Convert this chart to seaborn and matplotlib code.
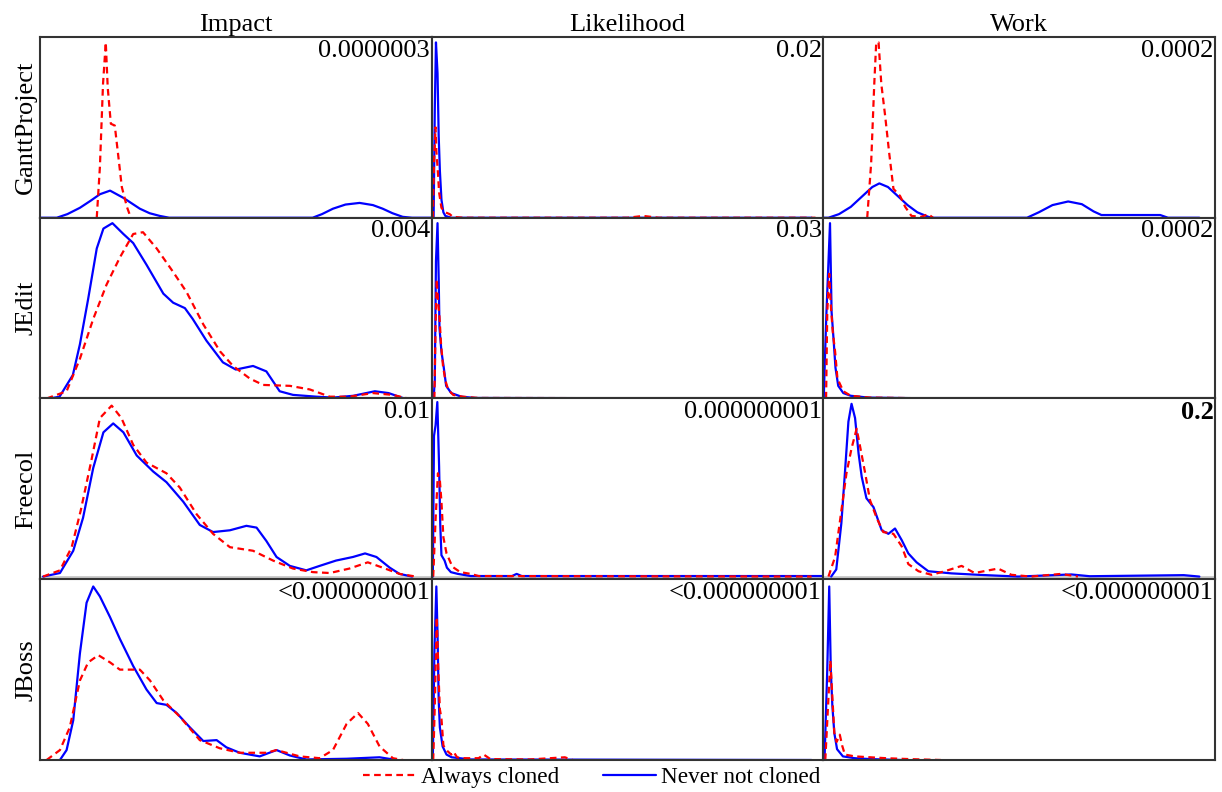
import matplotlib
matplotlib.use("Agg")
import matplotlib.pyplot as plt
from matplotlib.lines import Line2D
import seaborn as sns

# x: position across each panel (0-100), y: density scaled to panel height (0-100)
gp_imp_always_x = [14.5, 15.3, 16.1, 16.8, 17.3, 18.1, 19.1, 19.9, 20.9, 22.2, 23.2]
gp_imp_always_y = [0, 28, 74, 97, 72, 52, 51, 36, 17, 6, 0]
gp_imp_never_x = [0, 4.3, 7, 10.2, 13, 15.3, 17.9, 21.3, 25.5, 28, 30.6, 33,
                  69.6, 72, 74.8, 78, 81.6, 85, 87.5, 90, 92.6, 95, 100]
gp_imp_never_y = [0, 0, 2, 5.5, 9.5, 13, 15, 11, 5, 2.5, 1, 0,
                  0, 2, 5, 7.3, 8.2, 7, 5, 2.5, 0.5, 0, 0]

gp_lik_always_x = [0.3, 0.6, 1.0, 1.2, 1.6, 1.9, 2.5, 3.5, 4.6, 5.4, 8, 50, 54, 58, 98]
gp_lik_always_y = [0, 30, 50, 37, 25, 14, 5.5, 3, 2, 0.5, 0, 0, 1, 0, 0]
gp_lik_never_x = [0.5, 0.8, 1.1, 1.5, 1.8, 2.1, 2.5, 3.0, 3.5, 5, 97]
gp_lik_never_y = [0, 60, 97, 80, 45, 26, 10, 3, 1, 0, 0]

gp_work_always_x = [11.2, 12.2, 13.0, 13.5, 14.1, 14.8, 15.8, 16.8, 17.9, 19.6, 20.9, 22.5, 25, 26.8, 28]
gp_work_always_y = [0, 30, 74, 97, 97, 74, 56, 36, 16, 12, 6, 1, 0.5, 2, 0]
gp_work_never_x = [0, 1.3, 4, 7, 10, 12.5, 14.3, 16.5, 19, 21.5, 24, 26.8, 28,
                   52, 55, 58.5, 62.5, 66, 69, 71, 75, 86, 88, 96]
gp_work_never_y = [0, 0, 2, 6, 12, 17, 19, 17, 12, 7, 3, 0.5, 0,
                   0, 3, 7, 9, 7.5, 3.5, 1.5, 1.5, 1.5, 0, 0]

je_imp_always_x = [1.7, 6.8, 10.2, 13.6, 17, 20.4, 23.8, 26.3, 29.8, 34, 37.4, 41.7, 46,
                   49.3, 53.6, 57, 63.8, 68.9, 74, 79, 85, 90, 94]
je_imp_always_y = [0, 4, 22, 44, 63, 78, 91, 92, 83, 70, 59, 41, 26,
                   18, 11, 7.5, 7, 5, 1, 1, 3, 2, 0]
je_imp_never_x = [2.5, 5, 8.4, 10.2, 12.3, 14.5, 16.2, 18.5, 21.3, 23.8, 27.2, 31.5, 34, 37,
                  39, 42.5, 46.7, 50, 54.4, 57.8, 61.2, 64.6, 70.6, 74.8, 80, 85.5, 89, 93]
je_imp_never_y = [0, 1, 13, 30, 55, 83, 94, 97, 91, 86, 74, 58, 53, 50,
                  44, 32, 20, 16, 18, 15, 4, 2, 1, 0.5, 1.5, 4, 3, 0]

je_lik_always_x = [0.7, 1.0, 1.3, 1.6, 2.0, 2.4, 2.9, 3.5, 4.2, 5.5, 8, 12, 97]
je_lik_always_y = [0, 40, 66, 55, 45, 30, 18, 10, 5, 2, 1, 0.3, 0]
je_lik_never_x = [0.5, 0.8, 1.1, 1.5, 1.8, 2.0, 2.5, 3.1, 3.7, 5, 7.6, 11, 97]
je_lik_never_y = [0, 10, 76, 97, 66, 39, 26, 17, 7, 3, 1, 0.3, 0]

je_work_always_x = [0.7, 1.0, 1.5, 1.9, 2.4, 3.0, 3.6, 5.1, 7, 12, 30]
je_work_always_y = [0, 48, 69, 52, 37, 26, 11, 4, 1.5, 0.5, 0]
je_work_never_x = [0.1, 0.4, 0.8, 1.7, 2.1, 2.6, 3.1, 3.8, 5.1, 7, 11.5, 30]
je_work_never_y = [0, 22, 48, 97, 48, 33, 17, 7, 3, 1.5, 0.5, 0]

fc_imp_always_x = [0.8, 5.1, 8.1, 10.4, 13.2, 15.3, 18.3, 20.8, 23.8, 27.2, 32.3, 35.7, 40,
                   44.2, 48.5, 54.4, 59.5, 64.6, 69.7, 74, 79, 83.7, 87.5, 91.8, 96]
fc_imp_always_y = [0, 3.5, 16.5, 37, 66, 89, 96, 89, 74, 64, 58, 50, 35,
                   24, 16.5, 14.5, 9, 4.5, 2.5, 2, 4.5, 8, 5, 1.5, 0]
fc_imp_never_x = [0.8, 5.1, 8.5, 11, 13.6, 16.2, 18.7, 21.3, 24.7, 28.9, 32.3, 36.6, 40.8, 44.2,
                  48.5, 52.7, 55.3, 57.8, 60.4, 63.8, 68, 71.4, 75.6, 79.9, 83, 85.9, 89.3, 91.8, 95]
fc_imp_never_y = [0, 2, 14.5, 33, 61, 81, 86, 81, 68, 59, 53, 42, 29, 25,
                  26, 28.5, 27.5, 20, 11, 6, 3.5, 6, 9, 11, 13, 11, 5, 1.5, 0]

fc_lik_always_x = [0.4, 1.0, 1.6, 2.1, 2.5, 3.0, 3.8, 5.3, 7.3, 10, 12, 97]
fc_lik_always_y = [0, 32, 58, 54, 42, 22, 13, 5.5, 2.5, 1.5, 0.3, 0]
fc_lik_never_x = [0.3, 0.6, 1.0, 1.45, 1.9, 2.2, 2.5, 3.3, 3.9, 4.9, 6.7, 10, 20.5, 21.7, 23, 100]
fc_lik_never_y = [0, 79, 85, 98, 62, 29, 12, 9, 5, 2.5, 1.5, 0.3, 0.3, 1.5, 0.3, 0.3]

fc_work_always_x = [1.3, 3, 4.6, 5.9, 7.2, 8.5, 9.3, 10.6, 11.9, 13.6, 15.3, 17.9, 20, 21.7,
                    24.3, 27.6, 31, 35.3, 38.6, 44.6, 48, 53, 60.7, 65]
fc_work_always_y = [0, 11, 37, 58, 72, 83, 74, 59, 43, 33, 25, 24, 17, 7,
                    3, 1, 3, 6, 2, 4.5, 1, 0, 1.5, 0]
fc_work_never_x = [2, 3.3, 4.6, 5.5, 6.4, 7.2, 8.1, 9, 9.8, 11, 12.8, 14.9, 16.6, 18.3, 20,
                   21.7, 23.8, 26.8, 32.7, 39.5, 49.7, 63.3, 68, 92, 96]
fc_work_never_y = [0, 4, 30, 58, 87, 97, 89, 69, 56, 44, 39, 26, 24, 27, 20.5,
                   13, 8, 3, 1.8, 1, 0, 1.2, 0.2, 0.8, 0]

jb_imp_always_x = [1.7, 5.1, 7.6, 10.2, 12.3, 14.9, 17.9, 20.4, 23.8, 25.5, 28.1, 31.5, 35.7, 40.8,
                   45.9, 51, 57.8, 60.4, 66.3, 71.4, 74.8, 78.3, 81.2, 83.7, 86.7, 90.1, 92.7]
jb_imp_always_y = [0, 5.5, 18, 44, 54, 58, 54, 50, 50, 50, 44, 33, 24, 11,
                   6.5, 4, 4, 5.5, 2, 1, 5.5, 20, 26, 20, 7.5, 1, 0]
jb_imp_never_x = [5.1, 6.8, 8.5, 10.2, 11.9, 13.6, 15.3, 17.9, 20.4, 23.8, 27.2, 29.8, 32.3,
                  34.9, 38.3, 41.7, 45.1, 47.6, 51, 56.1, 60.4, 63.8, 68, 78.3, 86.7, 91]
jb_imp_never_y = [0, 5.5, 22, 59, 87, 96, 90.5, 79, 67, 52, 39, 31.5, 30.5,
                  26, 18, 10.5, 11, 7, 4, 2, 5.5, 2.5, 0.3, 0.7, 1.5, 0]

jb_lik_always_x = [0.4, 0.8, 1.3, 1.7, 2.1, 2.5, 3.0, 4.0, 5.0, 5.6, 6.5, 8, 12, 13.3, 15, 25, 34, 36]
jb_lik_always_y = [0, 30, 79, 50, 28, 23, 8, 5, 3, 4.5, 1.5, 1, 1, 3, 0.5, 0.3, 1.5, 0]
jb_lik_never_x = [0.3, 0.7, 1.2, 1.5, 1.8, 2.1, 2.8, 3.8, 5.1, 10, 97]
jb_lik_never_y = [0, 60, 96, 70, 33, 18, 7.5, 3, 1.5, 0.3, 0]

jb_work_always_x = [0.5, 1.2, 1.8, 2.3, 2.8, 3.4, 4.2, 4.8, 5.5, 8, 12, 16, 22, 30]
jb_work_always_y = [0, 30, 55, 35, 15, 10, 14, 8, 3, 2, 1.5, 1, 0.5, 0]
jb_work_never_x = [0.3, 1.0, 1.5, 1.9, 2.3, 2.8, 3.5, 5, 8, 12, 20]
jb_work_never_y = [0, 50, 96, 50, 30, 15, 6, 2, 1, 0.5, 0]

projects = ["GanttProject", "JEdit", "Freecol", "JBoss"]
measures = ["Impact", "Likelihood", "Work"]
p_values = [["0.0000003", "0.02", "0.0002"],
            ["0.004", "0.03", "0.0002"],
            ["0.01", "0.000000001", "0.2"],
            ["<0.000000001", "<0.000000001", "<0.000000001"]]

curves = {
    (0, 0): (gp_imp_always_x, gp_imp_always_y, gp_imp_never_x, gp_imp_never_y),
    (0, 1): (gp_lik_always_x, gp_lik_always_y, gp_lik_never_x, gp_lik_never_y),
    (0, 2): (gp_work_always_x, gp_work_always_y, gp_work_never_x, gp_work_never_y),
    (1, 0): (je_imp_always_x, je_imp_always_y, je_imp_never_x, je_imp_never_y),
    (1, 1): (je_lik_always_x, je_lik_always_y, je_lik_never_x, je_lik_never_y),
    (1, 2): (je_work_always_x, je_work_always_y, je_work_never_x, je_work_never_y),
    (2, 0): (fc_imp_always_x, fc_imp_always_y, fc_imp_never_x, fc_imp_never_y),
    (2, 1): (fc_lik_always_x, fc_lik_always_y, fc_lik_never_x, fc_lik_never_y),
    (2, 2): (fc_work_always_x, fc_work_always_y, fc_work_never_x, fc_work_never_y),
    (3, 0): (jb_imp_always_x, jb_imp_always_y, jb_imp_never_x, jb_imp_never_y),
    (3, 1): (jb_lik_always_x, jb_lik_always_y, jb_lik_never_x, jb_lik_never_y),
    (3, 2): (jb_work_always_x, jb_work_always_y, jb_work_never_x, jb_work_never_y),
}

sns.set_style("white")
plt.rcParams["font.family"] = ["Liberation Serif", "DejaVu Serif"]
plt.rcParams["text.color"] = "black"
plt.rcParams["axes.labelcolor"] = "black"

red = "#ff0000"
blue = "#0000ff"
dash = (0, (3, 2))

fig, axes = plt.subplots(4, 3, figsize=(12.22, 7.92), dpi=100)
fig.subplots_adjust(left=0.0327, right=0.9943, top=0.9533, bottom=0.0404, wspace=0, hspace=0)

for (r, c), (ax_, ay_, nx_, ny_) in curves.items():
    ax = axes[r, c]
    if r == 2:
        ax.axhline(0, color="#c8c8c8", lw=1.3, zorder=0.5)
    sns.lineplot(x=nx_, y=ny_, ax=ax, color=blue, lw=1.6, estimator=None)
    sns.lineplot(x=ax_, y=ay_, ax=ax, color=red, lw=1.6, linestyle=dash, estimator=None)
    ax.set_xlim(0, 100)
    ax.set_ylim(-1.5 if r == 2 else 0, 100)
    ax.set_xticks([])
    ax.set_yticks([])
    ax.set_xlabel("")
    ax.set_ylabel("")
    for s in ax.spines.values():
        s.set_color("#333333")
        s.set_linewidth(1.5)
    bold = "bold" if p_values[r][c] == "0.2" else "normal"
    ax.text(0.996, 0.985, p_values[r][c], transform=ax.transAxes, ha="right", va="top",
            fontsize=19, fontweight=bold, color="black")
    if r == 0:
        ax.set_title(measures[c], fontsize=19, pad=4, color="black")
    if c == 0:
        ax.set_ylabel(projects[r], fontsize=19, labelpad=2, color="black")

handles = [Line2D([], [], color=red, lw=1.6, linestyle=dash),
           Line2D([], [], color=blue, lw=1.6)]
fig.legend(handles, ["Always cloned", "Never not cloned"], loc="center",
           bbox_to_anchor=(0.484, 0.018), ncol=2, frameon=False, fontsize=16.7,
           handlelength=2.3, handletextpad=0.2, columnspacing=1.9)

fig.savefig("out.png", dpi=100)
